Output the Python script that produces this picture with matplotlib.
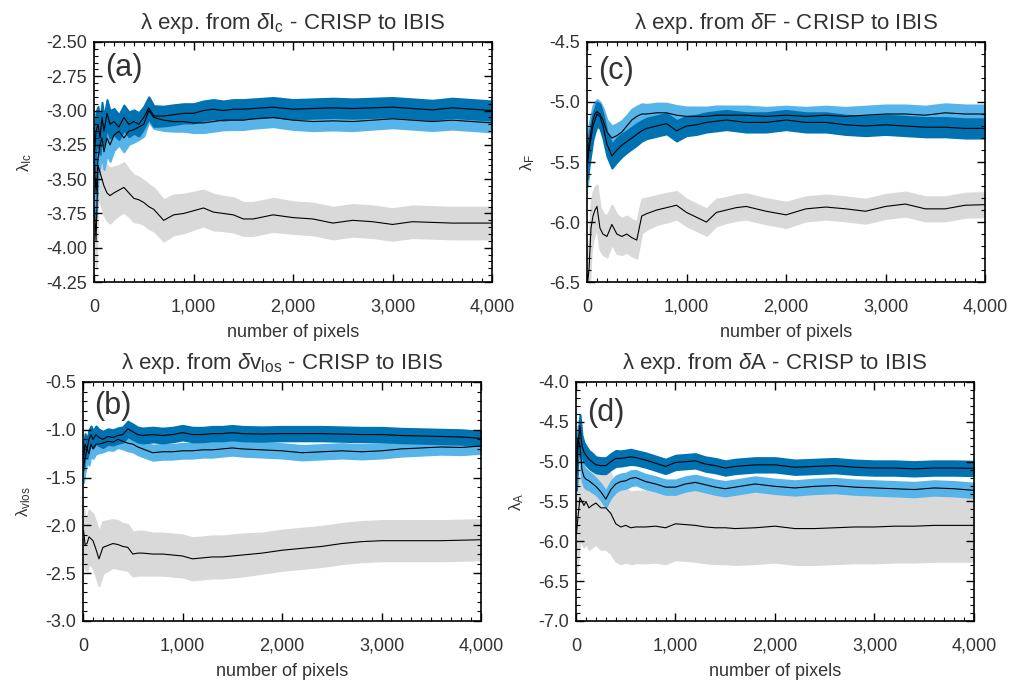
import matplotlib
matplotlib.use('Agg')
import matplotlib.pyplot as plt
from matplotlib.ticker import MultipleLocator, FuncFormatter

plt.rcParams['font.family'] = ['Liberation Sans', 'DejaVu Sans']
plt.rcParams['mathtext.fontset'] = 'custom'
plt.rcParams['mathtext.rm'] = 'Liberation Sans'
plt.rcParams['mathtext.it'] = 'Liberation Sans:italic'
plt.rcParams['axes.unicode_minus'] = False

# number of pixels (shared sampling of the running estimates)
PIXELS = [5, 20, 40, 60, 80, 100, 130, 160, 200, 250, 300, 350, 400, 450, 500, 550, 600,
          700, 800, 900, 1000, 1100, 1200, 1300, 1400, 1500, 1600, 1800, 2000, 2200,
          2400, 2600, 2800, 3000, 3200, 3400, 3600, 3800, 4000]

# (a) delta Ic
A_GREY = [-3.70, -3.95, -3.40, -3.45, -3.50, -3.55, -3.60, -3.62, -3.60, -3.58, -3.56, -3.60, -3.64,
          -3.65, -3.67, -3.70, -3.72, -3.80, -3.76, -3.75, -3.73, -3.71, -3.74, -3.75, -3.76, -3.79,
          -3.79, -3.76, -3.78, -3.79, -3.82, -3.80, -3.81, -3.83, -3.81, -3.815, -3.82, -3.82, -3.82]
A_GREY_ERR = [0.20, 0.20, 0.21, 0.21, 0.21, 0.21, 0.20, 0.20, 0.19, 0.18, 0.18, 0.17, 0.17, 0.165,
              0.16, 0.16, 0.155, 0.15, 0.145, 0.14, 0.135, 0.13, 0.13, 0.125, 0.125, 0.12, 0.12,
              0.12, 0.115, 0.115, 0.115, 0.115, 0.115, 0.115, 0.115, 0.115, 0.115, 0.115, 0.115]
A_LIGHT = [-3.40, -3.60, -3.35, -3.25, -3.20, -3.30, -3.20, -3.25, -3.18, -3.15, -3.20, -3.15, -3.14,
           -3.12, -3.10, -3.00, -3.05, -3.07, -3.08, -3.08, -3.09, -3.09, -3.08, -3.07, -3.07, -3.07,
           -3.06, -3.05, -3.07, -3.08, -3.075, -3.08, -3.07, -3.06, -3.07, -3.08, -3.07, -3.08, -3.09]
A_LIGHT_ERR = [0.20, 0.18, 0.16, 0.15, 0.14, 0.13, 0.12, 0.12, 0.11, 0.10, 0.10, 0.095, 0.09, 0.09,
               0.085, 0.08, 0.08, 0.075, 0.07, 0.07, 0.07, 0.07, 0.07, 0.07, 0.068, 0.068, 0.068,
               0.067, 0.067, 0.066, 0.066, 0.066, 0.065, 0.065, 0.065, 0.065, 0.065, 0.065, 0.065]
A_DARK = [-3.30, -3.15, -3.10, -3.20, -3.05, -3.15, -3.02, -3.10, -3.08, -3.12, -3.05, -3.10, -3.08,
          -3.10, -3.05, -2.98, -3.04, -3.04, -3.03, -3.02, -3.02, -3.00, -2.99, -3.00, -2.99, -2.99,
          -2.985, -2.975, -2.99, -2.985, -2.98, -2.985, -2.98, -2.975, -2.985, -2.995, -2.98, -2.99, -3.00]
A_DARK_ERR = [0.15, 0.14, 0.13, 0.12, 0.11, 0.10, 0.10, 0.10, 0.095, 0.09, 0.09, 0.09, 0.085, 0.085,
              0.08, 0.08, 0.075, 0.072, 0.072, 0.07, 0.07, 0.07, 0.07, 0.07, 0.07, 0.07, 0.07, 0.07,
              0.07, 0.07, 0.07, 0.07, 0.07, 0.07, 0.07, 0.07, 0.07, 0.07, 0.07]

# (c) delta F
C_GREY = [-6.50, -6.40, -6.05, -5.95, -5.90, -5.87, -6.05, -6.10, -6.12, -6.02, -6.10, -6.12, -6.10,
          -6.13, -6.15, -5.95, -5.93, -5.90, -5.88, -5.86, -5.92, -5.96, -6.00, -5.92, -5.90, -5.88,
          -5.87, -5.91, -5.94, -5.89, -5.875, -5.89, -5.91, -5.87, -5.85, -5.89, -5.89, -5.86, -5.855]
C_GREY_ERR = [0.22, 0.22, 0.21, 0.20, 0.19, 0.18, 0.18, 0.17, 0.17, 0.16, 0.16, 0.15, 0.15, 0.15,
              0.15, 0.14, 0.13, 0.12, 0.12, 0.115, 0.11, 0.11, 0.11, 0.11, 0.105, 0.105, 0.105,
              0.105, 0.105, 0.10, 0.10, 0.10, 0.10, 0.10, 0.10, 0.10, 0.10, 0.10, 0.10]
C_LIGHT = [-5.50, -5.35, -5.25, -5.15, -5.10, -5.08, -5.10, -5.15, -5.25, -5.30, -5.28, -5.25, -5.20,
           -5.15, -5.12, -5.10, -5.10, -5.09, -5.09, -5.11, -5.12, -5.12, -5.12, -5.11, -5.11, -5.11,
           -5.11, -5.12, -5.11, -5.12, -5.11, -5.12, -5.11, -5.10, -5.10, -5.11, -5.09, -5.10, -5.10]
C_LIGHT_ERR = [0.20, 0.16, 0.14, 0.12, 0.10, 0.10, 0.10, 0.10, 0.10, 0.10, 0.10, 0.095, 0.09, 0.09,
               0.085, 0.085, 0.08, 0.08, 0.08, 0.08, 0.078, 0.078, 0.077, 0.077, 0.076, 0.076,
               0.076, 0.075, 0.075, 0.075, 0.075, 0.075, 0.075, 0.075, 0.075, 0.075, 0.075, 0.075, 0.075]
C_DARK = [-5.50, -5.40, -5.30, -5.20, -5.15, -5.10, -5.12, -5.20, -5.35, -5.45, -5.40, -5.36, -5.33,
          -5.30, -5.27, -5.24, -5.22, -5.20, -5.18, -5.24, -5.20, -5.19, -5.17, -5.16, -5.15, -5.16,
          -5.17, -5.17, -5.15, -5.17, -5.17, -5.19, -5.20, -5.19, -5.20, -5.21, -5.21, -5.22, -5.22]
C_DARK_ERR = [0.14, 0.13, 0.12, 0.11, 0.10, 0.10, 0.10, 0.10, 0.10, 0.10, 0.10, 0.095, 0.09, 0.09,
              0.09, 0.085, 0.085, 0.085, 0.085, 0.085, 0.08, 0.08, 0.08, 0.08, 0.08, 0.08, 0.08,
              0.08, 0.08, 0.08, 0.08, 0.08, 0.08, 0.08, 0.08, 0.08, 0.08, 0.08, 0.08]

# (b) delta v_los
B_GREY = [-2.05, -2.20, -2.19, -2.12, -2.14, -2.16, -2.25, -2.35, -2.23, -2.21, -2.19, -2.20, -2.22,
          -2.23, -2.30, -2.29, -2.29, -2.30, -2.30, -2.31, -2.32, -2.35, -2.34, -2.33, -2.33, -2.32,
          -2.31, -2.29, -2.26, -2.24, -2.22, -2.19, -2.17, -2.16, -2.16, -2.16, -2.16, -2.155, -2.15]
B_GREY_ERR = [0.25, 0.26, 0.28, 0.28, 0.28, 0.28, 0.28, 0.28, 0.27, 0.26, 0.25, 0.25, 0.24, 0.24,
              0.23, 0.23, 0.23, 0.22, 0.22, 0.22, 0.22, 0.22, 0.22, 0.22, 0.22, 0.22, 0.22, 0.21,
              0.21, 0.21, 0.21, 0.21, 0.21, 0.21, 0.21, 0.21, 0.21, 0.21, 0.21]
B_LIGHT = [-1.40, -1.30, -1.20, -1.25, -1.15, -1.20, -1.15, -1.15, -1.14, -1.12, -1.13, -1.10, -1.12,
           -1.14, -1.15, -1.18, -1.20, -1.24, -1.23, -1.23, -1.22, -1.22, -1.21, -1.21, -1.20, -1.19,
           -1.20, -1.21, -1.22, -1.24, -1.23, -1.22, -1.23, -1.22, -1.20, -1.19, -1.18, -1.185, -1.17]
B_LIGHT_ERR = [0.15, 0.14, 0.13, 0.12, 0.11, 0.10, 0.10, 0.09, 0.09, 0.09, 0.085, 0.085, 0.08, 0.08,
               0.08, 0.08, 0.08, 0.078, 0.078, 0.077, 0.077, 0.076, 0.076, 0.076, 0.075, 0.075,
               0.075, 0.075, 0.075, 0.075, 0.075, 0.075, 0.075, 0.075, 0.075, 0.075, 0.075, 0.075, 0.075]
B_DARK = [-1.30, -1.15, -1.20, -1.10, -1.05, -1.10, -1.05, -1.08, -1.10, -1.07, -1.08, -1.06, -1.05,
          -0.99, -1.02, -1.05, -1.06, -1.05, -1.06, -1.05, -1.03, -1.05, -1.05, -1.04, -1.04, -1.03,
          -1.04, -1.045, -1.04, -1.04, -1.04, -1.045, -1.05, -1.05, -1.06, -1.065, -1.07, -1.075, -1.09]
B_DARK_ERR = [0.12, 0.11, 0.10, 0.10, 0.09, 0.09, 0.09, 0.085, 0.085, 0.08, 0.08, 0.08, 0.08, 0.08,
              0.08, 0.078, 0.078, 0.077, 0.077, 0.076, 0.076, 0.076, 0.075, 0.075, 0.075, 0.075,
              0.075, 0.075, 0.075, 0.075, 0.075, 0.075, 0.075, 0.075, 0.075, 0.075, 0.075, 0.075, 0.075]

# (d) delta A
D_GREY = [-5.90, -5.70, -5.45, -5.50, -5.55, -5.50, -5.58, -5.55, -5.52, -5.58, -5.58, -5.65, -5.78,
          -5.82, -5.80, -5.83, -5.82, -5.82, -5.81, -5.83, -5.78, -5.79, -5.80, -5.82, -5.83, -5.83,
          -5.84, -5.83, -5.81, -5.84, -5.84, -5.83, -5.82, -5.82, -5.81, -5.81, -5.80, -5.80, -5.80]
D_GREY_ERR = [0.50, 0.52, 0.52, 0.52, 0.52, 0.52, 0.52, 0.52, 0.52, 0.52, 0.52, 0.50, 0.47, 0.46,
              0.46, 0.45, 0.45, 0.45, 0.45, 0.45, 0.45, 0.45, 0.45, 0.45, 0.45, 0.45, 0.45, 0.45,
              0.45, 0.45, 0.45, 0.45, 0.45, 0.45, 0.45, 0.45, 0.45, 0.45, 0.45]
D_LIGHT = [-5.00, -4.70, -4.80, -5.10, -5.19, -5.22, -5.24, -5.27, -5.31, -5.38, -5.47, -5.35, -5.28,
           -5.25, -5.24, -5.21, -5.20, -5.25, -5.28, -5.32, -5.32, -5.28, -5.26, -5.29, -5.32, -5.34,
           -5.32, -5.28, -5.31, -5.33, -5.31, -5.30, -5.32, -5.33, -5.34, -5.35, -5.33, -5.34, -5.36]
D_LIGHT_ERR = [0.16, 0.15, 0.14, 0.13, 0.12, 0.12, 0.11, 0.11, 0.10, 0.10, 0.10, 0.10, 0.10, 0.095,
               0.095, 0.095, 0.09, 0.09, 0.09, 0.09, 0.09, 0.09, 0.09, 0.09, 0.09, 0.09, 0.09, 0.09,
               0.09, 0.09, 0.09, 0.09, 0.09, 0.09, 0.09, 0.09, 0.09, 0.09, 0.09]
D_DARK = [-5.20, -4.80, -4.55, -4.80, -4.88, -4.92, -4.97, -5.00, -5.04, -5.05, -5.05, -5.00, -4.96,
          -4.96, -4.95, -4.94, -4.95, -4.98, -5.02, -5.06, -5.01, -5.00, -4.99, -5.03, -5.05, -5.08,
          -5.06, -5.04, -5.04, -5.07, -5.06, -5.05, -5.07, -5.08, -5.08, -5.09, -5.08, -5.08, -5.085]
D_DARK_ERR = [0.16, 0.15, 0.14, 0.13, 0.12, 0.12, 0.11, 0.11, 0.10, 0.10, 0.10, 0.10, 0.10, 0.095,
              0.095, 0.095, 0.09, 0.09, 0.09, 0.09, 0.09, 0.09, 0.09, 0.09, 0.09, 0.09, 0.09, 0.09,
              0.09, 0.09, 0.09, 0.09, 0.09, 0.09, 0.09, 0.09, 0.09, 0.09, 0.09]

GREY = '#d9d9d9'
LIGHT = '#56b4e9'
DARK = '#0072b2'
TEXT = '#333333'


def band(ax, mean, err, color):
    lo = [m - e for m, e in zip(mean, err)]
    hi = [m + e for m, e in zip(mean, err)]
    ax.fill_between(PIXELS, lo, hi, color=color, lw=1.5, edgecolor=color)
    ax.plot(PIXELS, mean, color='black', lw=0.8)


def panel(ax, series, ylim, step, minor, fmt, title, ylabel, tag, tag_y):
    for mean, err, color in series:
        band(ax, mean, err, color)
    ax.set_xlim(0, 4000)
    ax.set_ylim(*ylim)
    ax.xaxis.set_major_locator(MultipleLocator(1000))
    ax.xaxis.set_minor_locator(MultipleLocator(100))
    ax.yaxis.set_major_locator(MultipleLocator(step))
    ax.yaxis.set_minor_locator(MultipleLocator(minor))
    ax.xaxis.set_major_formatter(FuncFormatter(lambda v, p: '{:,}'.format(int(v))))
    ax.yaxis.set_major_formatter(FuncFormatter(lambda v, p: fmt % v))
    ax.tick_params(which='both', direction='in', top=True, right=True, labelsize=13,
                   labelcolor=TEXT)
    ax.tick_params(which='major', length=6, width=1)
    ax.tick_params(which='minor', length=3, width=0.8)
    ax.tick_params(axis='x', pad=12)
    ax.tick_params(axis='y', pad=5)
    for s in ax.spines.values():
        s.set_linewidth(1.2)
    ax.set_title(title, fontsize=16, color=TEXT, pad=9)
    ax.set_xlabel('number of pixels', fontsize=13, color=TEXT, labelpad=6)
    ax.set_ylabel(ylabel, fontsize=12, color=TEXT, labelpad=9)
    ax.text(0.028, tag_y, tag, transform=ax.transAxes, fontsize=22, color=TEXT, va='center')


fig = plt.figure(figsize=(10.2, 6.88), dpi=100)
ax_a = fig.add_axes([0.0922, 0.590, 0.3902, 0.349])
ax_c = fig.add_axes([0.5755, 0.590, 0.3902, 0.349])
ax_b = fig.add_axes([0.0814, 0.0974, 0.3902, 0.3474])
ax_d = fig.add_axes([0.5647, 0.0974, 0.3902, 0.3474])

panel(ax_a, [(A_GREY, A_GREY_ERR, GREY), (A_LIGHT, A_LIGHT_ERR, LIGHT), (A_DARK, A_DARK_ERR, DARK)],
      (-4.25, -2.5), 0.25, 0.05, '%.2f', r'λ exp. from $\it{δ}$I$_{\rm c}$ - CRISP to IBIS',
      r'λ$_{\rm Ic}$', '(a)', 0.89)
panel(ax_c, [(C_GREY, C_GREY_ERR, GREY), (C_LIGHT, C_LIGHT_ERR, LIGHT), (C_DARK, C_DARK_ERR, DARK)],
      (-6.5, -4.5), 0.5, 0.1, '%.1f', r'λ exp. from $\it{δ}$F - CRISP to IBIS',
      r'λ$_{\rm F}$', '(c)', 0.88)
panel(ax_b, [(B_GREY, B_GREY_ERR, GREY), (B_LIGHT, B_LIGHT_ERR, LIGHT), (B_DARK, B_DARK_ERR, DARK)],
      (-3.0, -0.5), 0.5, 0.1, '%.1f', r'λ exp. from $\it{δ}$v$_{\rm los}$ - CRISP to IBIS',
      r'λ$_{\rm vlos}$', '(b)', 0.90)
panel(ax_d, [(D_GREY, D_GREY_ERR, GREY), (D_LIGHT, D_LIGHT_ERR, LIGHT), (D_DARK, D_DARK_ERR, DARK)],
      (-7.0, -4.0), 0.5, 0.1, '%.1f', r'λ exp. from $\it{δ}$A - CRISP to IBIS',
      r'λ$_{\rm A}$', '(d)', 0.87)

# keep end labels inside the axis height, like the original
fig.canvas.draw()
for ax in (ax_a, ax_b, ax_c, ax_d):
    ticks = ax.yaxis.get_major_ticks()
    ticks[0].label1.set_va('bottom')
    ticks[-1].label1.set_va('top')

fig.savefig('out.png', dpi=100)
